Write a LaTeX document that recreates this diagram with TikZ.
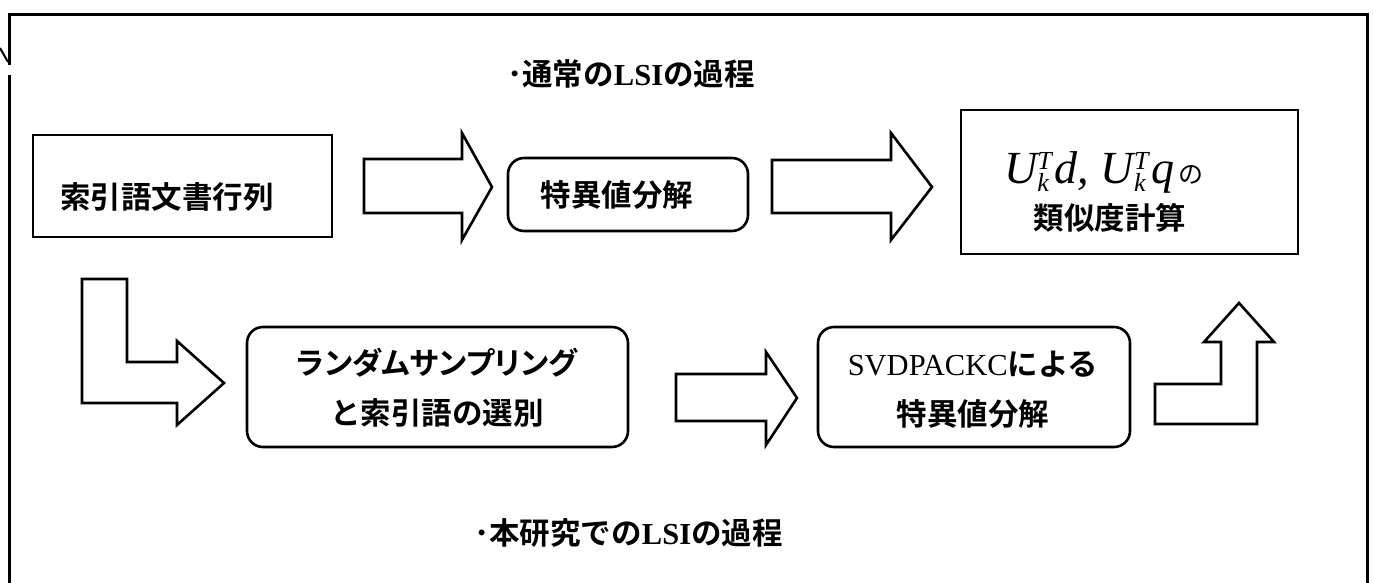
\documentclass[tikz,border=0pt]{standalone}
\usepackage{fontspec}
\setmainfont{Liberation Serif}
\newfontfamily\jp{Noto Sans CJK JP}[BoldFont={* Bold}]
\newfontfamily\jpp{Noto Sans CJK JP}[BoldFont={* Bold}, RawFeature=+palt]
\newcommand\SupSub[2]{\makebox[17pt][l]{\rlap{\raisebox{14pt}{\fontsize{26}{26}\selectfont #1}}\raisebox{-7pt}{\fontsize{26}{26}\selectfont #2}}}
\tikzset{
  outline/.style={line width=3pt},
  sqbox/.style={draw, line width=2.6pt, anchor=north west, inner sep=0pt, outer sep=0pt},
  rbox/.style={sqbox, rounded corners=16pt},
  blk/.style={draw, line width=2.6pt, line join=miter, miter limit=10},
  jtxt/.style={font=\jp\bfseries\fontsize{30.5}{50}\selectfont, align=center, inner sep=0pt},
  ttl/.style={font=\jp\bfseries\fontsize{30.5}{32}\selectfont, anchor=west, inner sep=0pt},
}
\begin{document}
\begin{tikzpicture}[x=1pt,y=-1pt]
\useasboundingbox (0,0) rectangle (1374,583);
% outer frame (open at the bottom)
\draw[outline] (9,583) -- (9,75);
\draw[outline] (9,65) -- (9,15) -- (1367,15) -- (1367,583);
\draw[line width=2pt] (0,48) -- (8,62);
% titles
\node[ttl] (T1) at (507,74) {･通常の{\rmfamily LSI}の過程};
\node[ttl] (T2) at (474,533) {･本研究での{\rmfamily LSI}の過程};
% top row
\node[sqbox, minimum width=299pt, minimum height=102pt] (A) at (33,135) {};
\node[jtxt] (At) at (167,197) {索引語文書行列};
\node[rbox, minimum width=240pt, minimum height=73pt] (B) at (508,158) {};
\node[jtxt] (Bt) at (617,195) {特異値分解};
\node[sqbox, minimum width=337pt, minimum height=144pt] (D) at (961,110) {};
\node[inner sep=0pt, anchor=base west] (Df) at (1004,184)
  {\fontsize{46}{50}\selectfont\itshape U\SupSub{T}{k}d,\hspace{12pt}U\SupSub{T}{k}q\hspace{4pt}{\jp\upshape\fontsize{25}{25}\selectfont の}};
\node[jtxt] (Dt) at (1110,218) {類似度計算};
% bottom row
\node[rbox, minimum width=381pt, minimum height=120pt] (C) at (247,327) {};
\node[jtxt] (Ct) at (437,388) {{\jpp ランダムサンプリング}\\と索引語の選別};
\node[rbox, minimum width=312pt, minimum height=120pt] (E) at (818,327) {};
\node[jtxt] (Et) at (973,390) {{\rmfamily\mdseries SVDPACKC}による\\特異値分解};
% block arrows
\draw[blk] (364,159) -- (462,159) -- (462,133) -- (492,187) -- (462,240) -- (462,213) -- (364,213) -- cycle;
\draw[blk] (772,160) -- (891,160) -- (891,133) -- (932,187) -- (891,240) -- (891,213) -- (772,213) -- cycle;
\draw[blk] (676,374) -- (766,374) -- (766,352) -- (797,398) -- (766,445) -- (766,421) -- (676,421) -- cycle;
\draw[blk] (82,279) -- (127,279) -- (127,362) -- (177,362) -- (177,341) -- (224,383) -- (177,425) -- (177,403) -- (82,403) -- cycle;
\draw[blk] (1155,424) -- (1155,384) -- (1221,384) -- (1221,342) -- (1204,342) -- (1239,303) -- (1274,342) -- (1257,342) -- (1257,424) -- cycle;
\end{tikzpicture}
\end{document}
